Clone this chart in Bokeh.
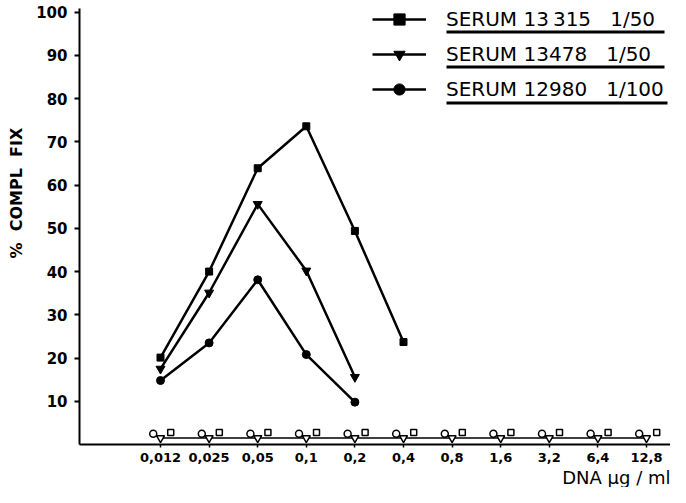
from bokeh.plotting import figure
from bokeh.models import (Range1d, FixedTicker, Legend, LegendItem, Title,
                          BoxAnnotation, ColumnDataSource)
from bokeh.transform import dodge
from bokeh.embed import file_html
from bokeh.resources import INLINE

# ---- data -------------------------------------------------------------
concentrations = ["0,012", "0,025", "0,05", "0,1", "0,2", "0,4",
                  "0,8", "1,6", "3,2", "6,4", "12,8"]
serum_13315 = [20.1, 40.0, 63.9, 73.6, 49.4, 23.7]          # 1/50
serum_13478 = [17.5, 35.1, 55.6, 40.2, 15.6]                # 1/50
serum_12980 = [14.8, 23.5, 38.1, 20.8, 9.8]                 # 1/100
control_circle = [2.5, 2.5, 2.5, 2.5, 2.5, 2.5, 2.5, 2.5, 2.5, 2.5, 2.5]
control_triangle = [1.5, 1.5, 1.5, 1.5, 1.5, 1.5, 1.5, 1.5, 1.5, 1.5, 1.5]
control_square = [2.8, 2.8, 2.8, 2.8, 2.8, 2.8, 2.8, 2.8, 2.8, 2.8, 2.8]
y_ticks = [10, 20, 30, 40, 50, 60, 70, 80, 90, 100]
legend_labels = ["SERUM 13\u2009315   1/50", "SERUM 13478   1/50", "SERUM 12980   1/100"]

FONT = "DejaVu Sans"
NB = "\u00a0"

p = figure(width=670, height=487, output_backend="svg", toolbar_location=None,
           x_range=Range1d(-1.667, 10.494), y_range=Range1d(0, 100.85),
           min_border_left=79, min_border_right=0, min_border_top=8, min_border_bottom=42)
p.outline_line_color = None
p.xgrid.grid_line_color = None
p.ygrid.grid_line_color = None
p.background_fill_color = "white"
p.border_fill_color = "white"

# axes
p.yaxis.ticker = FixedTicker(ticks=y_ticks)
p.yaxis.minor_tick_line_color = None
p.yaxis.major_tick_in = 0
p.yaxis.major_tick_out = 5
p.yaxis.axis_line_width = 2
p.yaxis.major_tick_line_width = 2
p.yaxis.major_label_text_font = FONT
p.yaxis.major_label_text_font_style = "bold"
p.yaxis.major_label_text_font_size = "15px"
p.yaxis.major_label_text_color = "black"
p.yaxis.major_label_standoff = 7
p.yaxis.axis_label = NB * 12 + "%" + NB * 2 + "COMPL" + NB * 2 + "FIX"
p.yaxis.axis_label_text_font = FONT
p.yaxis.axis_label_text_font_style = "bold"
p.yaxis.axis_label_text_font_size = "16px"
p.yaxis.axis_label_text_color = "black"
p.yaxis.axis_label_standoff = 7

p.xaxis.ticker = FixedTicker(ticks=list(range(len(concentrations))))
p.xaxis.major_label_overrides = {i: c for i, c in enumerate(concentrations)}
p.xaxis.minor_tick_line_color = None
p.xaxis.major_tick_in = 0
p.xaxis.major_tick_out = 3
p.xaxis.axis_line_width = 2
p.xaxis.major_tick_line_width = 1.5
p.xaxis.major_label_text_font = FONT
p.xaxis.major_label_text_font_style = "bold"
p.xaxis.major_label_text_font_size = "13px"
p.xaxis.major_label_text_color = "black"
p.xaxis.major_label_standoff = 5

# series
xs = list(range(len(concentrations)))
r1l = p.line(xs[:len(serum_13315)], serum_13315, line_color="black", line_width=2.5)
r1m = p.scatter(xs[:len(serum_13315)], serum_13315, marker="square", size=7,
                fill_color="black", line_color="black")
r2l = p.line(xs[:len(serum_13478)], serum_13478, line_color="black", line_width=2.5)
r2m = p.scatter(xs[:len(serum_13478)], serum_13478, marker="inverted_triangle", size=9,
                fill_color="black", line_color="black")
r3l = p.line(xs[:len(serum_12980)], serum_12980, line_color="black", line_width=2.5)
r3m = p.scatter(xs[:len(serum_12980)], serum_12980, marker="circle", size=8,
                fill_color="black", line_color="black")

# controls near baseline
ctrl = ColumnDataSource(dict(x=xs, c=control_circle, t=control_triangle, s=control_square))
p.line("x", "t", source=ctrl, line_color="black", line_width=1.5)
p.scatter(x=dodge("x", -0.15), y="c", source=ctrl, marker="circle", size=7,
          fill_color="white", line_color="black", line_width=1.5)
p.scatter(x="x", y="t", source=ctrl, marker="inverted_triangle", size=8,
          fill_color="white", line_color="black", line_width=1.5)
p.scatter(x=dodge("x", 0.21), y="s", source=ctrl, marker="square", size=6,
          fill_color="white", line_color="black", line_width=1.5)

# legend
legend = Legend(items=[LegendItem(label=legend_labels[0], renderers=[r1l, r1m]),
                       LegendItem(label=legend_labels[1], renderers=[r2l, r2m]),
                       LegendItem(label=legend_labels[2], renderers=[r3l, r3m])],
                location=(293, 341), orientation="vertical",
                glyph_width=54, glyph_height=28, label_height=28,
                label_standoff=20, spacing=7, padding=0, margin=0,
                label_text_font=FONT, label_text_font_size="20px",
                label_text_color="black",
                border_line_color=None, background_fill_alpha=0)
p.add_layout(legend, "center")

# underlines below legend labels
for top, bot, right in [(414, 411, 585), (379, 376, 585), (343, 340, 588)]:
    p.add_layout(BoxAnnotation(left=367, right=right, top=top, bottom=bot,
                               left_units="screen", right_units="screen",
                               top_units="screen", bottom_units="screen",
                               fill_color="black", fill_alpha=1, line_color=None))

# x axis title
p.add_layout(Title(text="DNA \u00b5g / ml", align="right", text_font=FONT,
                   text_font_style="normal", text_font_size="18px",
                   text_color="black", standoff=0, offset=0), "below")

open("out.html", "w").write(file_html(p, INLINE))
